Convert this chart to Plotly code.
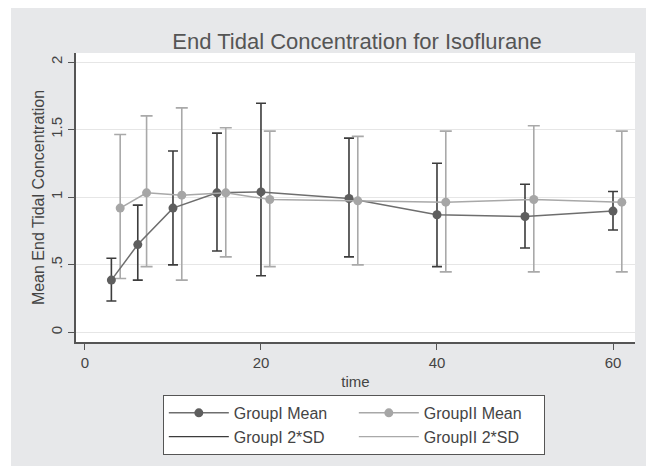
import plotly.graph_objects as go

# ---- data ----
time_g1 = [3, 6, 10, 15, 20, 30, 40, 50, 60]
mean_g1 = [0.386, 0.649, 0.919, 1.032, 1.039, 0.990, 0.870, 0.857, 0.897]
upper_g1 = [0.548, 0.941, 1.342, 1.474, 1.695, 1.437, 1.251, 1.096, 1.042]
lower_g1 = [0.231, 0.386, 0.499, 0.602, 0.418, 0.558, 0.486, 0.624, 0.757]

time_g2 = [4, 7, 11, 16, 21, 31, 41, 51, 61]
mean_g2 = [0.919, 1.032, 1.015, 1.032, 0.983, 0.973, 0.963, 0.983, 0.963]
upper_g2 = [1.464, 1.602, 1.661, 1.514, 1.489, 1.450, 1.489, 1.528, 1.489]
lower_g2 = [0.398, 0.486, 0.386, 0.558, 0.486, 0.499, 0.447, 0.447, 0.447]

y_tickvals = [0, 0.5, 1, 1.5, 2]
y_ticktext = ["0", ".5", "1", "1.5", "2"]
x_tickvals = [0, 20, 40, 60]

DARK_M = "#5e5e5e"
DARK_L = "#6e6e6e"
DARK_E = "#3c3c3c"
LIGHT_M = "#a6a6a6"
LIGHT_L = "#a8a8a8"
LIGHT_E = "#a9a9a9"
BG = "#e7e8ea"
FONT = "Liberation Sans, Arial, sans-serif"

fig = go.Figure()

# error bars (2*SD)
fig.add_trace(go.Scatter(
    x=time_g1, y=mean_g1, mode="markers", showlegend=False, hoverinfo="skip",
    marker=dict(size=1, opacity=0),
    error_y=dict(type="data", symmetric=False,
                 array=[u - m for u, m in zip(upper_g1, mean_g1)],
                 arrayminus=[m - l for m, l in zip(mean_g1, lower_g1)],
                 color=DARK_E, thickness=1.6, width=5)))
fig.add_trace(go.Scatter(
    x=time_g2, y=mean_g2, mode="markers", showlegend=False, hoverinfo="skip",
    marker=dict(size=1, opacity=0),
    error_y=dict(type="data", symmetric=False,
                 array=[u - m for u, m in zip(upper_g2, mean_g2)],
                 arrayminus=[m - l for m, l in zip(mean_g2, lower_g2)],
                 color=LIGHT_E, thickness=1.6, width=6)))

# means
fig.add_trace(go.Scatter(
    x=time_g1, y=mean_g1, mode="lines+markers", name="GroupI Mean",
    line=dict(color=DARK_L, width=1.5),
    marker=dict(color=DARK_M, size=9)))
fig.add_trace(go.Scatter(
    x=time_g2, y=mean_g2, mode="lines+markers", name="GroupII Mean",
    line=dict(color=LIGHT_L, width=1.5),
    marker=dict(color=LIGHT_M, size=9)))

# legend entries for SD
fig.add_trace(go.Scatter(
    x=[None], y=[None], mode="lines", name="GroupI 2*SD",
    line=dict(color=DARK_E, width=1.3)))
fig.add_trace(go.Scatter(
    x=[None], y=[None], mode="lines", name="GroupII 2*SD",
    line=dict(color=LIGHT_E, width=1.3)))

# the page body has an 8px margin, so the figure is 8px smaller than the window
fig.update_layout(
    width=646, height=458,
    margin=dict(l=68, r=19, t=45, b=123),
    paper_bgcolor="white",
    plot_bgcolor="white",
    font=dict(family=FONT, size=15, color="#444444"),
    title=dict(text="End Tidal Concentration for Isoflurane",
               x=0.5402, xanchor="center", y=0.928, yanchor="middle",
               font=dict(size=22, color="#555555")),
    showlegend=True,
    legend=dict(orientation="h", x=0.497, xanchor="center",
                y=-0.179, yanchor="top",
                entrywidth=115, itemwidth=60,
                bgcolor="white", bordercolor="#555555", borderwidth=1,
                font=dict(size=16, color="#444444"),
                traceorder="normal"),
    shapes=[
        dict(type="rect", xref="paper", yref="paper",
             x0=-0.1163, x1=1.0286, y0=-0.45, y1=1.2,
             fillcolor=BG, line=dict(width=0), layer="below"),
        dict(type="rect", xref="paper", yref="paper",
             x0=0, x1=1, y0=0, y1=1,
             fillcolor="white", line=dict(width=0), layer="below"),
    ],
)

fig.update_xaxes(
    range=[-1.02, 62.5], tickvals=x_tickvals,
    showgrid=False, zeroline=False,
    showline=True, linecolor="#555555", linewidth=1.5,
    ticks="outside", ticklen=6, tickcolor="#555555", tickwidth=1.3,
    tickfont=dict(size=15, color="#444444"),
    title=dict(text="time", standoff=7, font=dict(size=15, color="#444444")),
)
fig.update_yaxes(
    range=[-0.072, 2.067], tickvals=y_tickvals, ticktext=y_ticktext,
    tickangle=-90,
    showgrid=True, gridcolor="#e6e6e6", gridwidth=1, zeroline=False,
    showline=True, linecolor="#555555", linewidth=1.5,
    ticks="outside", ticklen=6, tickcolor="#555555", tickwidth=1.3,
    tickfont=dict(size=15, color="#444444"),
    title=dict(text="Mean End Tidal Concentration", standoff=0,
               font=dict(size=16, color="#444444")),
)

fig.write_html("out.html")
